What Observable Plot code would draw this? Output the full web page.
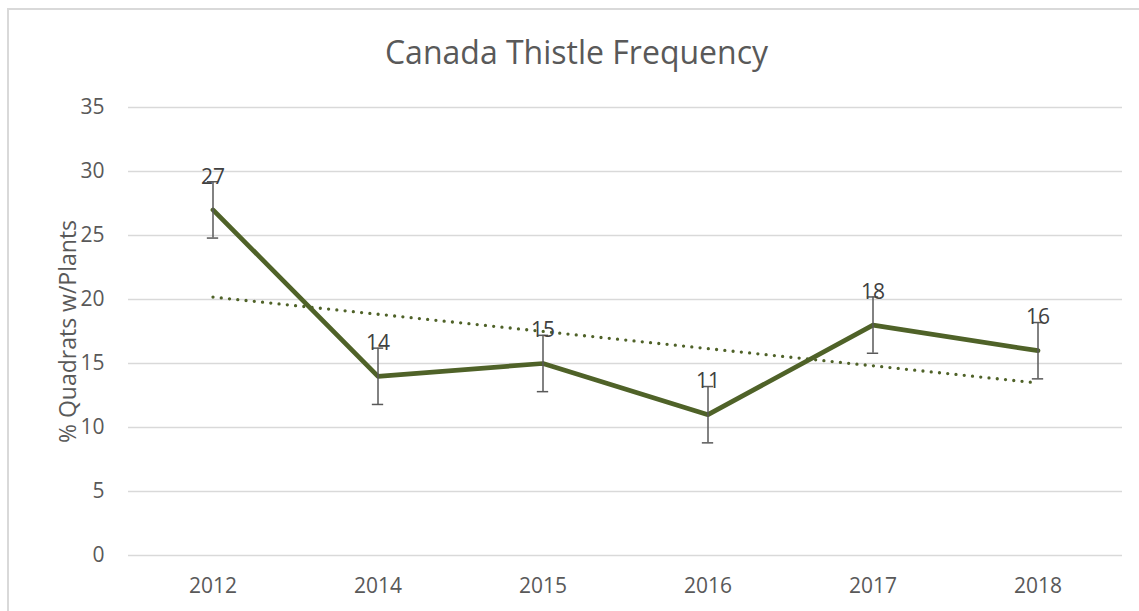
<!DOCTYPE html>
<html>
<head>
<meta charset="utf-8">
<script src="https://cdn.jsdelivr.net/npm/d3@7"></script>
<script src="https://cdn.jsdelivr.net/npm/@observablehq/plot@0.6"></script>
<style>
  html, body { margin: 0; padding: 0; background: #fff; }
  body { width: 1139px; height: 611px; overflow: hidden; position: relative; font-family: "Open Sans", sans-serif; }
  #frame { position: absolute; left: 7px; top: 8px; width: 1200px; height: 700px; border: 2px solid #d9d9d9; box-sizing: border-box; }
  #title { position: absolute; left: 7px; width: 1139px; top: 36px; text-align: center; font-size: 32px; line-height: 32px; color: #595959; white-space: nowrap; }
  #chart { position: absolute; left: 0; top: 0; }
</style>
</head>
<body>
<div id="frame"></div>
<div id="chart"></div>
<div id="title">Canada Thistle Frequency</div>
<script>
const years = ["2012", "2014", "2015", "2016", "2017", "2018"];
const values = [27, 14, 15, 11, 18, 16];
const errors = [2.2, 2.2, 2.2, 2.2, 2.2, 2.2];
const yTicks = [0, 5, 10, 15, 20, 25, 30, 35];
const yLabel = "% Quadrats w/Plants";

const data = years.map((year, i) => ({year, value: values[i], err: errors[i]}));

const W = 1139, H = 611, ML = 128, MR = 17, MT = 107, MB = 56;
const bw = (W - ML - MR) / years.length;
const capHalf = 6;
const font = '"Open Sans", sans-serif';

const chart = Plot.plot({
  width: W, height: H,
  marginLeft: ML, marginRight: MR, marginTop: MT, marginBottom: MB,
  style: {fontFamily: font, fontSize: "21px", color: "#595959", background: "transparent"},
  x: {type: "band", domain: years, padding: 0, tickSize: 0, tickPadding: 23, label: null},
  y: {domain: [0, 35], ticks: yTicks, tickSize: 0, tickPadding: 24, label: null},
  marks: [
    Plot.ruleY(yTicks, {stroke: "#d9d9d9", strokeWidth: 1.5}),
    Plot.linearRegressionY(data, {x: "year", y: "value", ci: 0, stroke: "#4f6228", strokeWidth: 3.3, strokeDasharray: "0 8.3", strokeLinecap: "round"}),
    Plot.line(data, {x: "year", y: "value", stroke: "#4f6228", strokeWidth: 4.75, strokeLinejoin: "round"}),
    Plot.ruleX(data, {x: "year", y1: d => d.value - d.err, y2: d => d.value + d.err, stroke: "#595959", strokeWidth: 1.5}),
    Plot.tickY(data, {x: "year", y: d => d.value - d.err, stroke: "#595959", strokeWidth: 1.5, insetLeft: bw / 2 - capHalf, insetRight: bw / 2 - capHalf}),
    Plot.tickY(data, {x: "year", y: d => d.value + d.err, stroke: "#595959", strokeWidth: 1.5, insetLeft: bw / 2 - capHalf, insetRight: bw / 2 - capHalf}),
    Plot.text(data, {x: "year", y: "value", text: d => String(d.value), dy: -33, fill: "#404040", fontSize: 21}),
    Plot.text([yLabel], {frameAnchor: "left", dx: -60, rotate: -90, textAnchor: "middle", text: d => d, fill: "#595959", fontSize: 23})
  ]
});
document.getElementById("chart").appendChild(chart);
</script>
</body>
</html>
